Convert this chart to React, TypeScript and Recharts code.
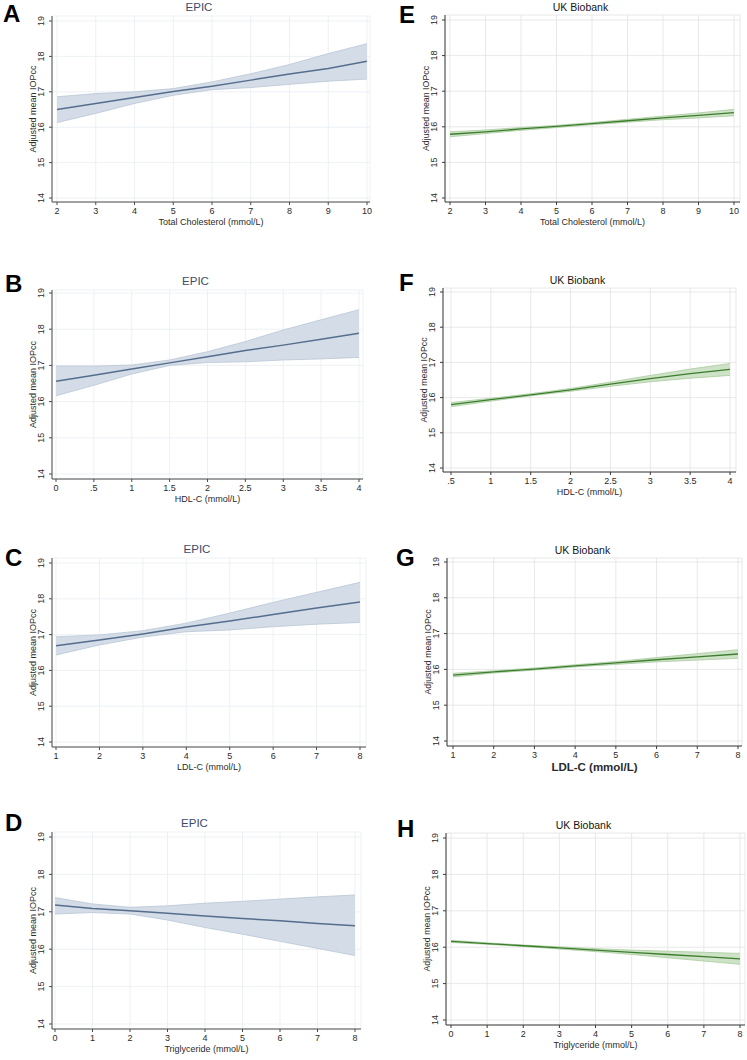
import React from 'react';
import { ComposedChart, Area, Line, XAxis, YAxis, CartesianGrid } from 'recharts';

const FONT = '"Liberation Sans", Arial, Helvetica, sans-serif';

// shared y axis
const yTicks = [14, 15, 16, 17, 18, 19];

// x ticks (also the x positions the fitted values were read at)
const tcTicks = [2, 3, 4, 5, 6, 7, 8, 9, 10];
const hdlTicksEpic = [0, 0.5, 1, 1.5, 2, 2.5, 3, 3.5, 4];
const hdlTicksUkb = [0.5, 1, 1.5, 2, 2.5, 3, 3.5, 4];
const ldlTicks = [1, 2, 3, 4, 5, 6, 7, 8];
const tgTicks = [0, 1, 2, 3, 4, 5, 6, 7, 8];

// EPIC
const epicTcFit = [16.5, 16.67, 16.84, 17.01, 17.16, 17.33, 17.5, 17.66, 17.86];
const epicTcLo = [16.13, 16.39, 16.67, 16.9, 17.06, 17.12, 17.21, 17.3, 17.36];
const epicTcHi = [16.86, 16.95, 17.0, 17.09, 17.28, 17.51, 17.77, 18.08, 18.36];

const epicHdlFit = [16.56, 16.73, 16.9, 17.07, 17.24, 17.41, 17.56, 17.72, 17.89];
const epicHdlLo = [16.16, 16.45, 16.76, 17.0, 17.08, 17.1, 17.15, 17.18, 17.22];
const epicHdlHi = [16.98, 16.98, 17.01, 17.15, 17.38, 17.66, 17.98, 18.26, 18.54];

const epicLdlFit = [16.69, 16.85, 17.02, 17.21, 17.38, 17.56, 17.74, 17.91];
const epicLdlLo = [16.43, 16.71, 16.93, 17.08, 17.13, 17.22, 17.29, 17.34];
const epicLdlHi = [16.94, 16.99, 17.11, 17.32, 17.6, 17.9, 18.18, 18.46];

const epicTgFit = [17.18, 17.09, 17.03, 16.96, 16.89, 16.82, 16.76, 16.69, 16.63];
const epicTgLo = [16.94, 16.98, 16.94, 16.78, 16.58, 16.4, 16.21, 16.02, 15.83];
const epicTgHi = [17.38, 17.21, 17.12, 17.16, 17.23, 17.28, 17.34, 17.4, 17.45];

// UK Biobank
const ukbTcFit = [15.79, 15.86, 15.94, 16.01, 16.09, 16.17, 16.25, 16.32, 16.4];
const ukbTcLo = [15.72, 15.81, 15.9, 15.98, 16.06, 16.13, 16.2, 16.25, 16.31];
const ukbTcHi = [15.86, 15.91, 15.98, 16.04, 16.12, 16.21, 16.3, 16.39, 16.49];

const ukbHdlFit = [15.8, 15.94, 16.08, 16.22, 16.38, 16.54, 16.68, 16.8];
const ukbHdlLo = [15.74, 15.9, 16.05, 16.18, 16.32, 16.45, 16.55, 16.63];
const ukbHdlHi = [15.86, 15.98, 16.11, 16.26, 16.44, 16.63, 16.81, 16.97];

const ukbLdlFit = [15.84, 15.93, 16.01, 16.1, 16.18, 16.27, 16.35, 16.43];
const ukbLdlLo = [15.79, 15.9, 15.98, 16.07, 16.14, 16.21, 16.26, 16.31];
const ukbLdlHi = [15.89, 15.96, 16.04, 16.13, 16.22, 16.33, 16.44, 16.55];

const ukbTgFit = [16.16, 16.1, 16.04, 15.98, 15.92, 15.86, 15.8, 15.74, 15.68];
const ukbTgLo = [16.13, 16.08, 16.02, 15.95, 15.88, 15.8, 15.71, 15.62, 15.53];
const ukbTgHi = [16.19, 16.12, 16.06, 16.01, 15.96, 15.92, 15.89, 15.86, 15.83];

const STYLES: any = {
  epic: {
    line: '#556e8d', lineWidth: 1.5, band: '#d4dce7', bandStroke: '#b9c6d6', grid: '#e8edf3',
    frame: '#9ea6b0', axis: '#4a4a4a', title: '#3d4b6c', titleSize: 11.5, yTitle: 9,
  },
  ukb: {
    line: '#3b7d2c', lineWidth: 1.3, band: '#cde2c6', bandStroke: '#a9cb9f', grid: '#e2e2e2',
    frame: '#7a7a7a', axis: '#3a3a3a', title: '#151515', titleSize: 10.5, yTitle: 8.8,
  },
};

// layout: plot box in page px, inner padding of the data range, letter position
const panels = [
  { letter: 'A', study: 'epic', title: 'EPIC', xLabel: 'Total Cholesterol (mmol/L)', xTicks: tcTicks,
    fit: epicTcFit, lo: epicTcLo, hi: epicTcHi,
    box: { l: 52, t: 16, r: 370, b: 202 }, pad: { t: 5, b: 4, l: 5, r: 3 }, lp: { x: 3, y: 5 } },
  { letter: 'B', study: 'epic', title: 'EPIC', xLabel: 'HDL-C (mmol/L)', xTicks: hdlTicksEpic,
    fit: epicHdlFit, lo: epicHdlLo, hi: epicHdlHi,
    box: { l: 52, t: 290, r: 363, b: 479 }, pad: { t: 3, b: 5, l: 4, r: 4 }, lp: { x: 5, y: 275 } },
  { letter: 'C', study: 'epic', title: 'EPIC', xLabel: 'LDL-C (mmol/L)', xTicks: ldlTicks,
    fit: epicLdlFit, lo: epicLdlLo, hi: epicLdlHi,
    box: { l: 52, t: 558, r: 366, b: 747 }, pad: { t: 5, b: 5, l: 4, r: 6 }, lp: { x: 5, y: 549 } },
  { letter: 'D', study: 'epic', title: 'EPIC', xLabel: 'Triglyceride (mmol/L)', xTicks: tgTicks,
    fit: epicTgFit, lo: epicTgLo, hi: epicTgHi,
    box: { l: 52, t: 832, r: 361, b: 1029 }, pad: { t: 5, b: 5, l: 3, r: 6 }, lp: { x: 5, y: 814 } },
  { letter: 'E', study: 'ukb', title: 'UK Biobank', xLabel: 'Total Cholesterol (mmol/L)', xTicks: tcTicks,
    fit: ukbTcFit, lo: ukbTcLo, hi: ukbTcHi,
    box: { l: 445, t: 15, r: 740, b: 202 }, pad: { t: 5, b: 4, l: 5, r: 6 }, lp: { x: 399, y: 6 } },
  { letter: 'F', study: 'ukb', title: 'UK Biobank', xLabel: 'HDL-C (mmol/L)', xTicks: hdlTicksUkb,
    fit: ukbHdlFit, lo: ukbHdlLo, hi: ukbHdlHi,
    box: { l: 443, t: 288, r: 736, b: 472 }, pad: { t: 4, b: 4, l: 8, r: 6 }, lp: { x: 399, y: 274 } },
  { letter: 'G', study: 'ukb', title: 'UK Biobank', xLabel: 'LDL-C (mmol/L)', xTicks: ldlTicks,
    fit: ukbLdlFit, lo: ukbLdlLo, hi: ukbLdlHi, bigXLabel: true,
    box: { l: 447, t: 558, r: 742, b: 746 }, pad: { t: 4, b: 5, l: 6, r: 4 }, lp: { x: 396, y: 549 } },
  { letter: 'H', study: 'ukb', title: 'UK Biobank', xLabel: 'Triglyceride (mmol/L)', xTicks: tgTicks,
    fit: ukbTgFit, lo: ukbTgLo, hi: ukbTgHi,
    box: { l: 446, t: 833, r: 745, b: 1025 }, pad: { t: 5, b: 5, l: 5, r: 5 }, lp: { x: 397, y: 820 } },
];

const fmtX = (v: number) => (v > 0 && v < 1 ? String(v).replace(/^0/, '') : String(v));

const YTick = (props: any) => {
  const { x, y, payload } = props;
  return (
    <text x={x} y={y} transform={`rotate(-90 ${x} ${y})`} textAnchor="middle"
      fontSize={9} fill="#2b2b2b" fontFamily={FONT}>
      {payload.value}
    </text>
  );
};

function Panel({ p }: { p: any }) {
  const st = STYLES[p.study];
  const { box, pad } = p;
  const rows = p.xTicks.map((x: number, i: number) => ({ x, fit: p.fit[i], band: [p.lo[i], p.hi[i]] }));
  const xDomain = [p.xTicks[0], p.xTicks[p.xTicks.length - 1]];
  const cx = (box.l + box.r) / 2 - 12;

  const yTitle = (lp: any) => {
    const vb = lp.viewBox;
    const tx = vb.x + vb.width - 16.5;
    const ty = vb.y + vb.height / 2;
    return (
      <text x={tx} y={ty} transform={`rotate(-90 ${tx} ${ty})`} textAnchor="middle"
        fontSize={st.yTitle} fill="#2b2b2b" fontFamily={FONT}>
        Adjusted mean IOPcc
      </text>
    );
  };

  return (
    <>
      <div style={{
        position: 'absolute', left: p.lp.x, top: p.lp.y - 3, fontFamily: FONT,
        fontWeight: 'bold', fontSize: 24, lineHeight: '24px', color: '#000',
      }}>{p.letter}</div>
      <div style={{
        position: 'absolute', left: cx - 80, width: 160, textAlign: 'center',
        top: box.t - 8 - st.titleSize * 0.49, fontFamily: FONT, fontSize: st.titleSize,
        lineHeight: `${st.titleSize}px`, color: st.title, whiteSpace: 'nowrap',
      }}>{p.title}</div>
      <div style={{ position: 'absolute', left: box.l - 50, top: box.t - 20 }}>
        <ComposedChart width={box.r - box.l + 54} height={box.b - box.t + 51} data={rows}
          margin={{ top: 20, right: 4, left: 0, bottom: 6 }}>
          <CartesianGrid stroke={st.grid} strokeWidth={0.8} />
          <XAxis dataKey="x" type="number" domain={xDomain} ticks={p.xTicks} interval={0}
            allowDataOverflow tickFormatter={fmtX} padding={{ left: pad.l, right: pad.r }}
            height={25} tickSize={3} tickMargin={3} stroke={st.axis}
            tick={{ fontSize: 9, fill: '#2b2b2b', fontFamily: FONT }}
            label={{
              value: p.xLabel, position: 'insideBottom', offset: p.bigXLabel ? 0 : 2,
              fontSize: p.bigXLabel ? 11.5 : 9, fill: '#2b2b2b', fontFamily: FONT,
              fontWeight: p.bigXLabel ? 'bold' : 'normal',
            }} />
          <XAxis xAxisId="top" orientation="top" type="number" domain={[0, 1]} height={0}
            tick={false} tickLine={false} stroke={st.frame} />
          <YAxis type="number" domain={[14, 19]} ticks={yTicks} interval={0} allowDataOverflow
            width={50} padding={{ top: pad.t, bottom: pad.b }} tickSize={3} tickMargin={5}
            stroke={st.axis} tick={<YTick />} label={yTitle} />
          <YAxis yAxisId="right" orientation="right" type="number" domain={[0, 1]} width={0}
            tick={false} tickLine={false} stroke={st.frame} />
          <Area dataKey="band" type="linear" fill={st.band} fillOpacity={1} stroke={st.bandStroke}
            strokeWidth={0.8} isAnimationActive={false} />
          <Line dataKey="fit" type="linear" stroke={st.line} strokeWidth={st.lineWidth} dot={false}
            isAnimationActive={false} />
        </ComposedChart>
      </div>
    </>
  );
}

export default function App() {
  return (
    <div style={{ position: 'absolute', left: 0, top: 0, width: 747, height: 1060, background: '#fff' }}>
      {panels.map(p => <Panel key={p.letter} p={p} />)}
    </div>
  );
}
